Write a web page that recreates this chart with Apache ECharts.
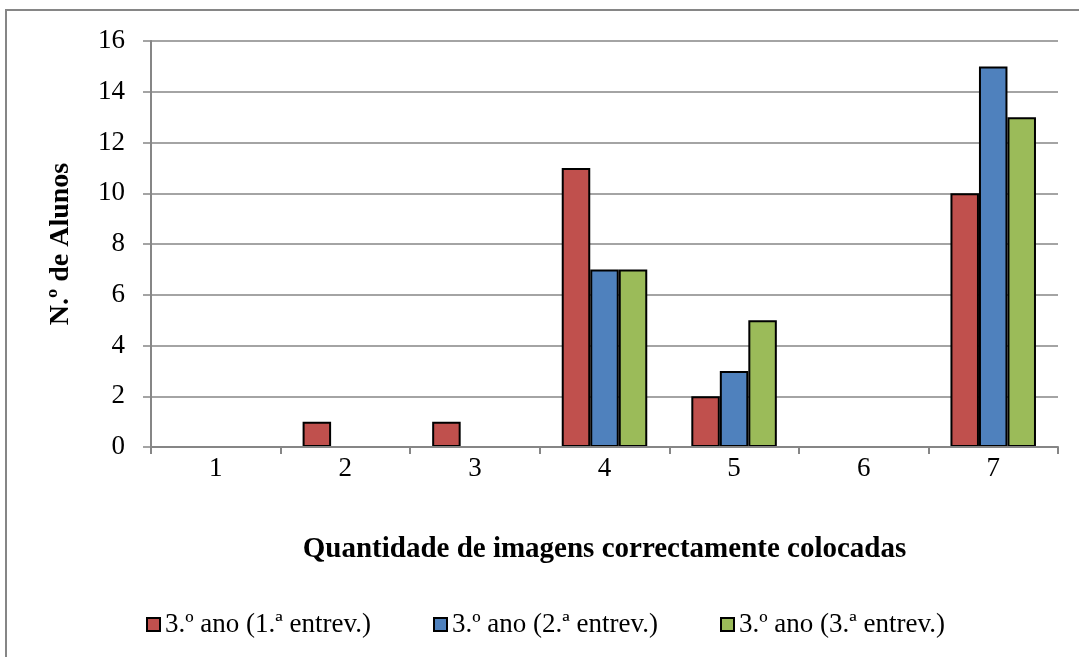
<!DOCTYPE html>
<html>
<head>
<meta charset="utf-8">
<script src="https://cdn.jsdelivr.net/npm/echarts@6/dist/echarts.min.js"></script>
<style>
  html, body { margin: 0; padding: 0; background: #fff; }
  #chart { width: 1079px; height: 657px; }
</style>
</head>
<body>
<div id="chart"></div>
<script>
// Number of images placed correctly (categories) and student counts per interview
const categories = ['1', '2', '3', '4', '5', '6', '7'];
const seriesNames = ['3.º ano (1.ª entrev.)', '3.º ano (2.ª entrev.)', '3.º ano (3.ª entrev.)'];
const entrev1 = [0, 1, 1, 11, 2, 0, 10];
const entrev2 = [0, 0, 0, 7, 3, 0, 15];
const entrev3 = [0, 0, 0, 7, 5, 0, 13];
const colors = ['#C0504D', '#4F81BD', '#9BBB59'];

const serif = '"Liberation Serif", "Times New Roman", serif';
const gray = '#868686';
const legendLefts = [146, 433, 720];

const chart = echarts.init(document.getElementById('chart'), null, { renderer: 'canvas' });

const makeSeries = (name, data, color) => ({
  name: name,
  type: 'bar',
  data: data,
  barGap: '0%',
  barCategoryGap: '34%',
  itemStyle: { color: color, borderColor: '#000', borderWidth: 2 }
});

// one legend block per series so the entries keep their spacing
const legends = seriesNames.map((name, i) => ({
  left: legendLefts[i],
  top: 611,
  padding: 0,
  itemWidth: 13,
  itemHeight: 13,
  icon: 'rect',
  textStyle: { fontFamily: serif, fontSize: 27, color: '#000' },
  data: [name]
}));

chart.setOption({
  animation: false,
  backgroundColor: '#fff',
  graphic: [{
    type: 'rect',
    shape: { x: 6, y: 10, width: 1200, height: 800 },
    style: { fill: 'none', stroke: gray, lineWidth: 2 },
    silent: true,
    z: -1
  }],
  grid: { left: 151, right: 21, top: 41, bottom: 210 },
  legend: legends,
  xAxis: {
    type: 'category',
    data: categories,
    z: 5,
    name: 'Quantidade de imagens correctamente colocadas',
    nameLocation: 'middle',
    nameGap: 88,
    nameTextStyle: { fontFamily: serif, fontSize: 29, fontWeight: 'bold', color: '#000' },
    axisLine: { lineStyle: { color: gray, width: 2 } },
    axisTick: { show: true, length: 7, lineStyle: { color: gray, width: 2 } },
    axisLabel: { fontFamily: serif, fontSize: 27, color: '#000', margin: 8 }
  },
  yAxis: {
    type: 'value',
    min: 0,
    max: 16,
    interval: 2,
    name: 'N.º de Alunos',
    nameLocation: 'middle',
    nameGap: 76,
    nameRotate: 90,
    nameTextStyle: { fontFamily: serif, fontSize: 28, fontWeight: 'bold', color: '#000' },
    axisLine: { show: true, lineStyle: { color: gray, width: 2 } },
    axisTick: { show: true, length: 8, lineStyle: { color: gray, width: 1.5 } },
    axisLabel: { fontFamily: serif, fontSize: 27, color: '#000', margin: 26 },
    splitLine: { show: true, lineStyle: { color: gray, width: 1.5 } }
  },
  series: [
    makeSeries(seriesNames[0], entrev1, colors[0]),
    makeSeries(seriesNames[1], entrev2, colors[1]),
    makeSeries(seriesNames[2], entrev3, colors[2])
  ]
});
</script>
</body>
</html>
